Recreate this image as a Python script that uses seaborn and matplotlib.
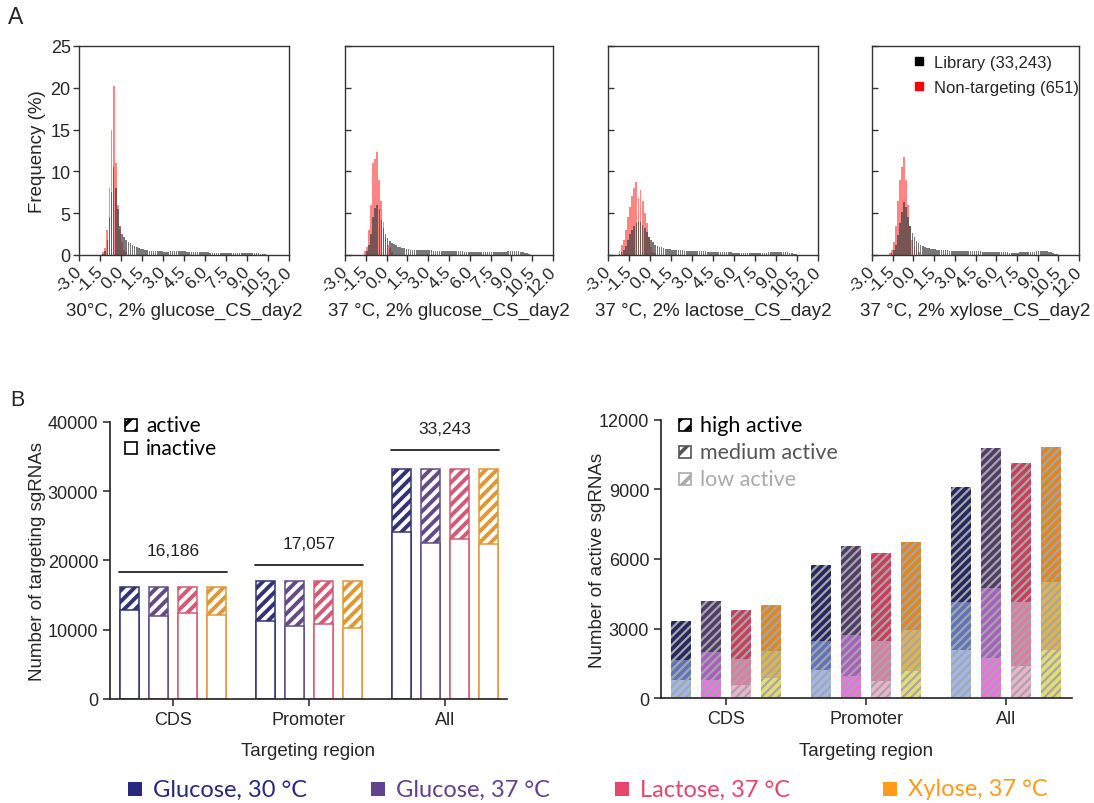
import numpy as np
import pandas as pd
import matplotlib
matplotlib.use("Agg")
import matplotlib.pyplot as plt
from matplotlib.patches import Rectangle
from matplotlib.lines import Line2D
import seaborn as sns

sns.set_theme(style="ticks")
plt.rcParams["font.family"] = ["Liberation Sans", "DejaVu Sans"]
plt.rcParams["axes.unicode_minus"] = False
plt.rcParams["hatch.linewidth"] = 1.4

HUMAN = ["Lato", "DejaVu Sans"]

# ---------------------------------------------------------------------------
# Panel A: per-bin frequency (%) of sgRNA scores, bins of 0.15 starting at -2.4
# ---------------------------------------------------------------------------
BIN_START = -2.4
BIN_WIDTH = 0.15

hist_titles = ["30°C, 2% glucose_CS_day2", "37 °C, 2% glucose_CS_day2",
               "37 °C, 2% lactose_CS_day2", "37 °C, 2% xylose_CS_day2"]
hist_xticks = [-3.0, -1.5, 0.0, 1.5, 3.0, 4.5, 6.0, 7.5, 9.0, 10.5, 12.0]
hist_xticklabels = ["-3.0", "-1.5", "0.0", "1.5", "3.0", "4.5", "6.0",
                    "7.5", "9.0", "10.5", "12.0"]
hist_yticks = [0, 5, 10, 15, 20, 25]
library_label = "Library (33,243)"
nontargeting_label = "Non-targeting (651)"

library_glc30 = [
    0, 0, 0, 0, 0, 0, 0,
    0.1, 0.5, 1.8, 4.5, 7.5, 10.5, 8.0, 5.5, 3.5,
    2.5, 2.1, 1.8, 1.6, 1.4, 1.25, 1.1, 0.95, 0.85, 0.75,
    0.68, 0.62, 0.57, 0.53, 0.5, 0.48, 0.46, 0.45, 0.44, 0.42,
    0.41, 0.4, 0.41, 0.42, 0.43, 0.44, 0.45, 0.46, 0.45, 0.44,
    0.43, 0.41, 0.4, 0.38, 0.37, 0.36, 0.35, 0.34, 0.33, 0.32,
    0.31, 0.3, 0.29, 0.28, 0.27, 0.27, 0.26, 0.25, 0.25, 0.24,
    0.24, 0.23, 0.23, 0.22, 0.22, 0.22, 0.21, 0.21, 0.21, 0.22,
    0.22, 0.23, 0.23, 0.22, 0.21, 0.19, 0.16, 0.12, 0.08, 0.05,
    0.03, 0.01, 0, 0,
]
library_glc37 = [
    0, 0, 0, 0, 0, 0,
    0.5,
    1.2, 2.5, 4.5, 5.6, 6.0, 5.5, 4.2, 3.2, 2.5, 2.0,
    1.7, 1.45, 1.3, 1.15, 1.0, 0.92, 0.85, 0.78, 0.72, 0.68,
    0.65, 0.62, 0.6, 0.58,
    0.57, 0.56, 0.56, 0.55, 0.55, 0.54, 0.54, 0.53, 0.53, 0.52,
    0.52, 0.51, 0.5, 0.5, 0.49, 0.48, 0.47, 0.46, 0.45, 0.44,
    0.43, 0.42, 0.41, 0.4, 0.39, 0.38, 0.37, 0.36, 0.35, 0.34,
    0.33, 0.32, 0.32, 0.31, 0.31, 0.32, 0.32, 0.33, 0.34, 0.35,
    0.36, 0.38, 0.4, 0.42, 0.44, 0.46, 0.47, 0.46, 0.44, 0.4,
    0.34, 0.26, 0.18, 0.1, 0.05, 0.02, 0.01, 0, 0,
]
library_lac37 = [
    0, 0.1, 0.3, 0.6, 1.1, 1.8, 2.5, 3.0, 3.5, 3.8,
    4.0, 3.9, 3.6, 3.2, 2.7, 2.2, 1.8, 1.5, 1.25, 1.1,
    1.0, 0.9, 0.82, 0.76, 0.72, 0.68, 0.65, 0.62, 0.6, 0.58,
    0.56, 0.54, 0.53, 0.52, 0.5, 0.49, 0.48, 0.47, 0.46, 0.45,
    0.44, 0.43, 0.42, 0.41, 0.4, 0.39, 0.38, 0.37, 0.36, 0.35,
    0.34, 0.33, 0.32, 0.31, 0.3, 0.29, 0.28, 0.27, 0.26, 0.25,
    0.24, 0.23, 0.22, 0.21, 0.2, 0.2, 0.2, 0.21, 0.22, 0.23,
    0.25, 0.27, 0.3, 0.33, 0.36, 0.38, 0.4, 0.41, 0.4, 0.39,
    0.37, 0.34, 0.28, 0.2, 0.12, 0.06, 0.02, 0, 0, 0,
]
library_xyl37 = [
    0, 0, 0, 0, 0.05, 0.2, 0.6, 1.2, 2.4, 3.8,
    5.2, 6.3, 5.8, 4.6, 3.5, 2.6, 2.1, 1.7, 1.4, 1.2,
    1.05, 0.95, 0.87, 0.8, 0.74, 0.7, 0.66, 0.63, 0.6, 0.58,
    0.56, 0.55, 0.54, 0.53, 0.52, 0.51, 0.5, 0.5, 0.49, 0.48,
    0.48, 0.47, 0.46, 0.46, 0.45, 0.45, 0.44, 0.43, 0.42, 0.41,
    0.4, 0.39, 0.38, 0.37, 0.36, 0.35, 0.34, 0.33, 0.32, 0.31,
    0.3, 0.3, 0.29, 0.29, 0.29, 0.29, 0.29, 0.3, 0.3, 0.31,
    0.32, 0.34, 0.36, 0.38, 0.4, 0.42, 0.44, 0.45, 0.45, 0.44,
    0.42, 0.38, 0.32, 0.24, 0.16, 0.08, 0.03, 0.01, 0, 0,
]

nontargeting_glc30 = [0, 0, 0, 0, 0, 0, 0, 0.3, 0.8, 3.0,
                      8.0, 15.0, 20.2, 11.0, 6.0, 3.0, 1.5, 0.6, 0.3, 0]
nontargeting_glc37 = [0, 0, 0, 0, 0, 0.5, 1.0, 3.0, 6.0, 11.0,
                      11.5, 12.3, 9.0, 6.5, 4.0, 2.0, 1.2, 0.8, 0.4, 0]
nontargeting_lac37 = [0, 0.5, 1.2, 1.8, 3.0, 4.5, 5.8, 7.0, 8.0, 8.7,
                      6.8, 7.8, 6.5, 5.0, 3.8, 2.2, 1.0, 0.4, 0.2, 0]
nontargeting_xyl37 = [0, 0, 0, 0, 0.2, 0.6, 1.5, 3.5, 6.5, 9.0,
                      10.5, 11.7, 9.0, 6.0, 3.5, 1.8, 1.0, 0.6, 0.3, 0]

library_sets = [library_glc30, library_glc37, library_lac37, library_xyl37]
nontargeting_sets = [nontargeting_glc30, nontargeting_glc37,
                     nontargeting_lac37, nontargeting_xyl37]

# ---------------------------------------------------------------------------
# Panel B: sgRNA counts per targeting region and growth condition
# ---------------------------------------------------------------------------
regions = ["CDS", "Promoter", "All"]
conditions = ["Glucose, 30 °C", "Glucose, 37 °C", "Lactose, 37 °C", "Xylose, 37 °C"]
region_totals = [16186, 17057, 33243]

high_active = {
    "Glucose, 30 °C": [1670, 3290, 4940],
    "Glucose, 37 °C": [2170, 3830, 6000],
    "Lactose, 37 °C": [2140, 3820, 5980],
    "Xylose, 37 °C": [1980, 3820, 5830],
}
medium_active = {
    "Glucose, 30 °C": [860, 1220, 2080],
    "Glucose, 37 °C": [1220, 1780, 3020],
    "Lactose, 37 °C": [1110, 1700, 2770],
    "Xylose, 37 °C": [1190, 1750, 2940],
}
low_active = {
    "Glucose, 30 °C": [790, 1230, 2070],
    "Glucose, 37 °C": [790, 950, 1750],
    "Lactose, 37 °C": [570, 750, 1380],
    "Xylose, 37 °C": [860, 1180, 2070],
}

condition_colors = {"Glucose, 30 °C": "#27287f", "Glucose, 37 °C": "#62418f",
                    "Lactose, 37 °C": "#e8456a", "Xylose, 37 °C": "#ff9b1a"}
high_colors = {"Glucose, 30 °C": "#1c1f6b", "Glucose, 37 °C": "#4e3570",
               "Lactose, 37 °C": "#e2264f", "Xylose, 37 °C": "#ff8a00"}
medium_colors = {"Glucose, 30 °C": "#4d6bcf", "Glucose, 37 °C": "#b24fd0",
                 "Lactose, 37 °C": "#f06b9e", "Xylose, 37 °C": "#f5bd3a"}
low_colors = {"Glucose, 30 °C": "#93b4f5", "Glucose, 37 °C": "#ff5cf5",
              "Lactose, 37 °C": "#f7a9cc", "Xylose, 37 °C": "#f8ea62"}

rows = []
for cond in conditions:
    for j, reg in enumerate(regions):
        rows.append({"region": reg, "condition": cond,
                     "high": high_active[cond][j],
                     "medium": medium_active[cond][j],
                     "low": low_active[cond][j],
                     "total": region_totals[j]})
counts = pd.DataFrame(rows)
counts["active"] = counts["high"] + counts["medium"] + counts["low"]
counts["inactive"] = counts["total"] - counts["active"]
counts["low_top"] = counts["low"]
counts["medium_top"] = counts["low"] + counts["medium"]
counts["high_top"] = counts["active"]

# ---------------------------------------------------------------------------
W, H = 1094, 804
fig = plt.figure(figsize=(W / 100, H / 100), dpi=100)
fig.patch.set_facecolor("white")


def fig_box(left, top, right, bottom):
    return [left / W, 1 - bottom / H, (right - left) / W, (bottom - top) / H]


def hatch_patch(patch, hatch, color, lw):
    patch.set_hatch(hatch)
    patch.set_edgecolor(color)
    if hasattr(patch, "set_hatch_linewidth"):
        patch.set_hatch_linewidth(lw)


def binned(values):
    n = len(values)
    centers = BIN_START + BIN_WIDTH * (np.arange(n) + 0.5)
    frame = pd.DataFrame({"score": centers, "freq": np.asarray(values, dtype=float)})
    return frame, (BIN_START, BIN_START + BIN_WIDTH * n)


# ---------------- Panel A ----------------
hist_boxes = [(79, 47, 289, 256), (345, 47, 553, 256),
              (608, 47, 818, 256), (872, 47, 1079, 256)]
for k, (lib, ntg) in enumerate(zip(library_sets, nontargeting_sets)):
    ax = fig.add_axes(fig_box(*hist_boxes[k]))
    ntg_df, ntg_range = binned(ntg)
    lib_df, lib_range = binned(lib)
    sns.histplot(data=ntg_df, x="score", weights="freq", binwidth=BIN_WIDTH,
                 binrange=ntg_range, color="#ff1f1f", alpha=0.55, linewidth=0,
                 shrink=0.9, ax=ax)
    sns.histplot(data=lib_df, x="score", weights="freq", binwidth=BIN_WIDTH,
                 binrange=lib_range, color="#444444", alpha=0.72, linewidth=0,
                 shrink=0.78, ax=ax)
    ax.set_xlim(-3, 12)
    ax.set_ylim(0, 25)
    ax.set_xticks(hist_xticks)
    ax.set_xticklabels(hist_xticklabels, rotation=45, ha="right", va="center",
                       rotation_mode="anchor", fontsize=12.5)
    ax.set_yticks(hist_yticks)
    for sp in ax.spines.values():
        sp.set_visible(True)
        sp.set_color("#333333")
        sp.set_linewidth(1.0)
    ax.tick_params(axis="x", direction="out", length=4, width=1, color="#333333", pad=6)
    if k == 0:
        ax.tick_params(axis="y", direction="out", length=4, width=1,
                       color="#333333", labelsize=13, pad=2)
        ax.set_ylabel("Frequency (%)", fontsize=13.5)
        ax.yaxis.set_label_coords(-0.157, 0.5)
    else:
        ax.tick_params(axis="y", direction="in", length=4, width=1,
                       color="#333333", labelleft=False)
        ax.set_ylabel("")
    ax.set_xlabel(hist_titles[k], fontsize=13.5)
    ax.xaxis.set_label_coords(0.5, -0.222)
    if k == 3:
        handles = [Line2D([], [], marker="s", ls="", color="black", markersize=6),
                   Line2D([], [], marker="s", ls="", color="red", markersize=6)]
        ax.legend(handles, [library_label, nontargeting_label], loc="upper left",
                  bbox_to_anchor=(0.14, 1.015), frameon=False, fontsize=12,
                  handlelength=0.8, handletextpad=0.5, labelspacing=0.62,
                  borderaxespad=0.3)

fig.text(8 / W, 1 - 18 / H, "A", fontsize=16.5, va="center", ha="left")
fig.text(10 / W, 1 - 401 / H, "B", fontsize=15.5, va="center", ha="left")

# ---------------- Panel B, left: active vs inactive ----------------
axL = fig.add_axes(fig_box(110, 422.7, 507, 700))
sns.barplot(data=counts, x="region", y="total", hue="condition", order=regions,
            hue_order=conditions, palette=condition_colors, width=0.85, gap=0.34,
            errorbar=None, legend=False, ax=axL)
for p in axL.patches:
    c = p.get_facecolor()
    p.set_facecolor("white")
    p.set_linewidth(1.1)
    hatch_patch(p, "///", c, 2.8)
n_active = len(axL.patches)
sns.barplot(data=counts, x="region", y="inactive", hue="condition", order=regions,
            hue_order=conditions, palette=condition_colors, width=0.85, gap=0.34,
            errorbar=None, legend=False, ax=axL)
for p in axL.patches[n_active:]:
    c = p.get_facecolor()
    p.set_facecolor("white")
    p.set_edgecolor(c)
    p.set_linewidth(1.1)

bracket_y = [18300, 19400, 35950]
for j, reg in enumerate(regions):
    axL.plot([j - 0.4, j + 0.4], [bracket_y[j], bracket_y[j]], color="#222222", lw=1.3)
    axL.text(j, bracket_y[j] + 3100, f"{region_totals[j]:,}", ha="center",
             va="center", fontsize=12.5, color="#222222")

axL.set_ylim(0, 40000)
axL.set_xlim(-0.463, 2.456)
axL.set_yticks([0, 10000, 20000, 30000, 40000])
axL.set_ylabel("Number of targeting sgRNAs", fontsize=13.5)
axL.yaxis.set_label_coords(-0.161, 0.5)
axL.set_xlabel("Targeting region", fontsize=13.5)
axL.xaxis.set_label_coords(0.5, -0.155)

# ---------------- Panel B, right: activity levels ----------------
axR = fig.add_axes(fig_box(661, 420.7, 1072, 699.3))
for col, pal in [("high_top", high_colors), ("medium_top", medium_colors),
                 ("low_top", low_colors)]:
    sns.barplot(data=counts, x="region", y=col, hue="condition", order=regions,
                hue_order=conditions, palette=pal, width=0.857, gap=0.35,
                errorbar=None, legend=False, ax=axR)
for p in axR.patches:
    p.set_linewidth(0)
    hatch_patch(p, "////", "#a6a6a6", 1.6)

axR.set_ylim(0, 12000)
axR.set_xlim(-0.466, 2.47)
axR.set_yticks([0, 3000, 6000, 9000, 12000])
axR.set_ylabel("Number of active sgRNAs", fontsize=13.5)
axR.yaxis.set_label_coords(-0.134, 0.5)
axR.set_xlabel("Targeting region", fontsize=13.5)
axR.xaxis.set_label_coords(0.5, -0.157)

for ax in (axL, axR):
    sns.despine(ax=ax)
    for sp in ("left", "bottom"):
        ax.spines[sp].set_color("#222222")
        ax.spines[sp].set_linewidth(1.2)
    ax.tick_params(axis="both", direction="out", length=5, width=1.1,
                   color="#222222", labelsize=13)
    ax.tick_params(axis="x", pad=3.5)


# ---------------- in-panel keys ----------------
def key_entry(x, y, label, color, size, hatch):
    icon = Rectangle((x / W, 1 - (y + 6) / H), 12 / W, 12 / H,
                     transform=fig.transFigure, facecolor="white",
                     edgecolor=color, linewidth=1.2)
    if hatch:
        hatch_patch(icon, "//", color, 2.6)
    fig.add_artist(icon)
    fig.text((x + 21) / W, 1 - y / H, label, color=color, fontsize=size,
             family=HUMAN, va="center", ha="left")


key_entry(125, 426, "active", "black", 15, True)
key_entry(125, 449, "inactive", "black", 15, False)
key_entry(679, 426, "high active", "black", 15.5, True)
key_entry(679, 453, "medium active", "#555555", 15.5, True)
key_entry(679, 480, "low active", "#aaaaaa", 15.5, True)

# ---------------- shared condition key ----------------
key_x = [128, 371, 615, 883]
for xk, cond in zip(key_x, conditions):
    sq = Rectangle((xk / W, 1 - 797 / H), 14 / W, 14 / H, transform=fig.transFigure,
                   facecolor=condition_colors[cond], edgecolor="none")
    fig.add_artist(sq)
    fig.text((xk + 25) / W, 1 - 790 / H, cond, color=condition_colors[cond],
             fontsize=17, family=HUMAN, va="center", ha="left")

fig.savefig("out.png", dpi=100, facecolor="white")
